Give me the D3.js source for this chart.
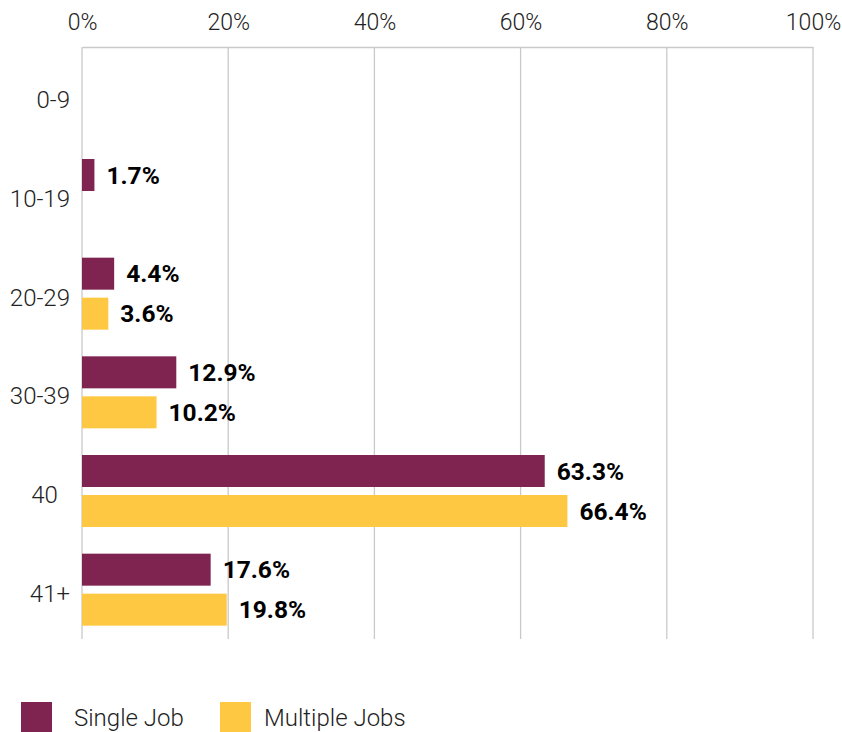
<!DOCTYPE html>
<html>
<head>
<meta charset="utf-8">
<script src="https://cdn.jsdelivr.net/npm/d3@7"></script>
<style>
  html, body { margin: 0; padding: 0; background: #fff; }
  svg { display: block; font-family: Roboto, "Noto Sans", sans-serif; }
</style>
</head>
<body>
<svg id="chart" width="842" height="732"></svg>
<script>
const categories = ["0-9", "10-19", "20-29", "30-39", "40", "41+"];
const categoryLabels = ["0-9", "10-19", "20-29", "30-39", "40\u2002", "41+"];
const seriesNames = ["Single Job", "Multiple Jobs"];
const singleJob = [null, 1.7, 4.4, 12.9, 63.3, 17.6];
const multipleJobs = [null, null, 3.6, 10.2, 66.4, 19.8];
const xTicks = [0, 20, 40, 60, 80, 100];
const colors = ["#7F2351", "#FFC843"];

const svg = d3.select("#chart");
const margin = { left: 82, right: 29, top: 47, bottom: 93 };
const W = 842, H = 732;

const x = d3.scaleLinear().domain([0, 100]).range([margin.left, W - margin.right]);
const y = d3.scaleBand().domain(categories).range([margin.top, H - margin.bottom]).padding(0);
const barH = 32, barGap = 8;
const inner = d3.scaleBand().domain(seriesNames)
  .range([0, barH * 2 + barGap]).paddingInner(barGap / (barH + barGap)).paddingOuter(0);
const groupOffset = (y.bandwidth() - (barH * 2 + barGap)) / 2;

// gridlines
svg.append("g").selectAll("line").data(xTicks).join("line")
  .attr("x1", d => x(d)).attr("x2", d => x(d))
  .attr("y1", margin.top).attr("y2", H - margin.bottom)
  .attr("stroke", "#c9c9c9").attr("stroke-width", 1.3);

// top axis
const xAxis = d3.axisTop(x).tickValues(xTicks).tickFormat(d => d + "%").tickSize(0).tickPadding(17);
const gx = svg.append("g").attr("transform", `translate(0,${margin.top})`).call(xAxis);
gx.select(".domain").attr("stroke", "#c9c9c9").attr("stroke-width", 1.3);
gx.selectAll("text").attr("font-size", 23).attr("font-weight", 300).attr("fill", "#222")
  .attr("font-family", "Roboto, sans-serif");

// left axis labels
const yAxis = d3.axisLeft(y).tickSize(0).tickPadding(12)
  .tickFormat((d, i) => categoryLabels[i]);
const gy = svg.append("g").attr("transform", `translate(${margin.left},0)`).call(yAxis);
gy.select(".domain").remove();
gy.selectAll("text").attr("font-size", 24).attr("font-weight", 300).attr("fill", "#222")
  .attr("font-family", "Roboto, sans-serif")
  .attr("dy", "0.5em").style("white-space", "pre");

// bars
const rows = [];
categories.forEach((c, i) => {
  [singleJob, multipleJobs].forEach((arr, s) => {
    if (arr[i] != null) rows.push({ cat: c, series: seriesNames[s], s, value: arr[i] });
  });
});

const barY = d => y(d.cat) + groupOffset + inner(d.series);

svg.append("g").selectAll("rect").data(rows).join("rect")
  .attr("x", x(0)).attr("y", barY)
  .attr("width", d => x(d.value) - x(0)).attr("height", inner.bandwidth())
  .attr("fill", d => colors[d.s]);

svg.append("g").selectAll("text").data(rows).join("text")
  .attr("x", d => x(d.value) + 12)
  .attr("y", d => barY(d) + inner.bandwidth() / 2)
  .attr("dy", "0.36em")
  .attr("font-size", 24.5).attr("font-weight", 700).attr("fill", "#000")
  .text(d => d.value.toFixed(1) + "%");

// legend
const legend = svg.append("g").attr("transform", "translate(21,702)");
const legendX = [0, 199];
const legendTextX = [53, 44];
seriesNames.forEach((name, i) => {
  const g = legend.append("g").attr("transform", `translate(${legendX[i]},0)`);
  g.append("rect").attr("width", 31).attr("height", 31).attr("fill", colors[i]);
  g.append("text").attr("x", legendTextX[i]).attr("y", 24)
    .attr("font-size", 24).attr("font-weight", 300).attr("fill", "#222")
    .text(name);
});
</script>
</body>
</html>
